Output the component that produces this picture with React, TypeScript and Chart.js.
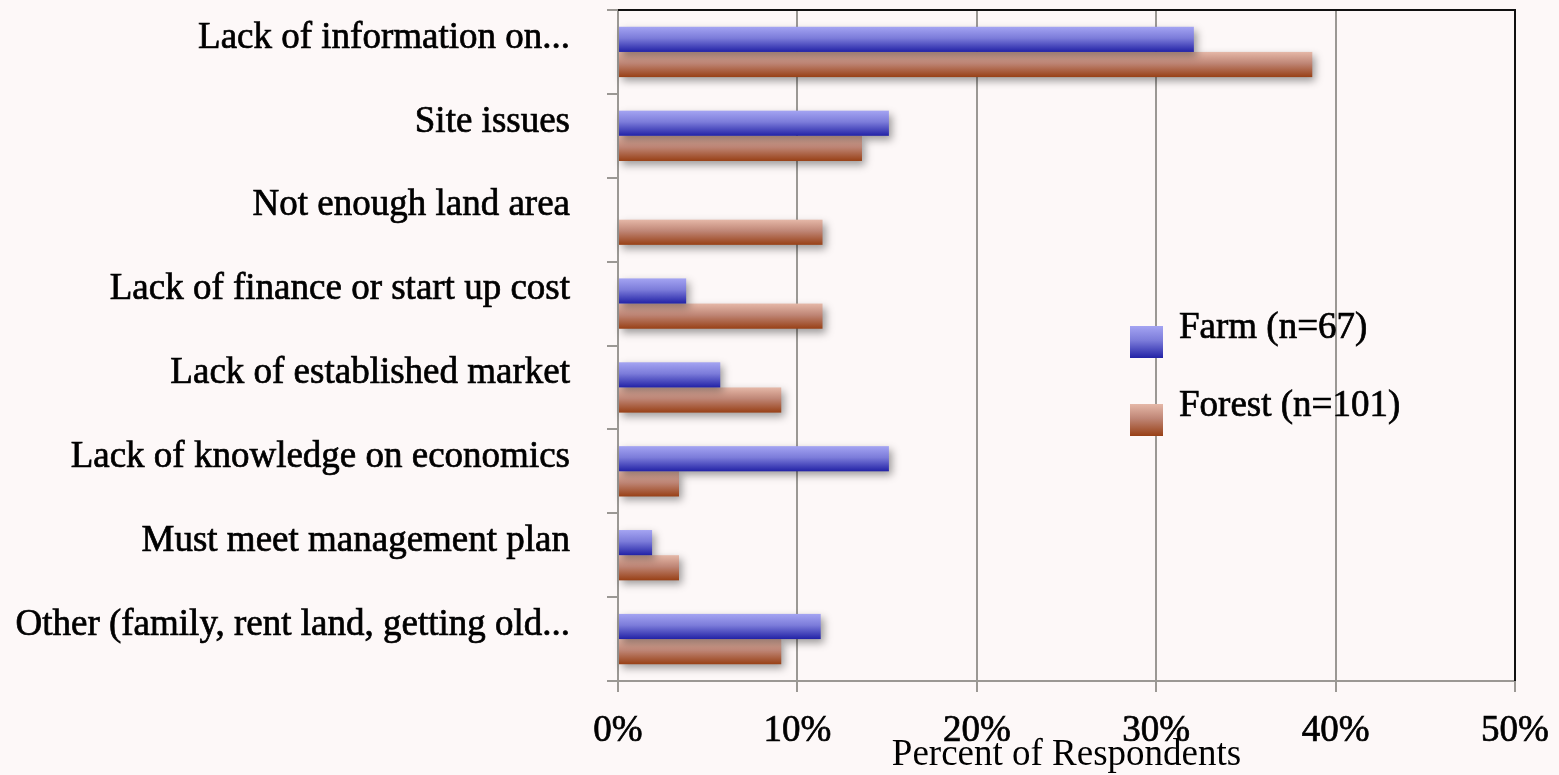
import React, { useEffect, useRef } from "react";
import { Chart, registerables } from "chart.js";

Chart.register(...registerables);

const categories = [
  "Lack of information on...",
  "Site issues",
  "Not enough land area",
  "Lack of finance or start up cost",
  "Lack of established market",
  "Lack of knowledge on economics",
  "Must meet management plan",
  "Other (family, rent land, getting old...",
];
const farmLabel = "Farm (n=67)";
const forestLabel = "Forest (n=101)";
const farmValues = [32.1, 15.1, 0, 3.8, 5.7, 15.1, 1.9, 11.3];
const forestValues = [38.7, 13.6, 11.4, 11.4, 9.1, 3.4, 3.4, 9.1];
const xTickValues = [0, 10, 20, 30, 40, 50];
const axisTitle = "Percent of Respondents";

const FONT = "'Liberation Serif', 'DejaVu Serif', serif";
const BG = "#fdf8f8";
const GRID = "#9b9894";
const GRADS: string[][] = [
  ["#a4a4f2", "#7c7cda", "#2222a6"],
  ["#e5b8a8", "#bf8676", "#984016"],
];

function fillGrad(ctx: CanvasRenderingContext2D, idx: number, top: number, bottom: number) {
  const g = ctx.createLinearGradient(0, top, 0, bottom);
  const s = GRADS[idx];
  g.addColorStop(0, s[0]);
  g.addColorStop(0.45, s[1]);
  g.addColorStop(1, s[2]);
  return g;
}

const gradientBars = {
  id: "gradientBars",
  beforeDatasetDraw(chart: any, args: any) {
    const ctx: CanvasRenderingContext2D = chart.ctx;
    const meta = args.meta;
    ctx.save();
    meta.data.forEach((el: any) => {
      const p = el.getProps(["x", "y", "base", "height"], true);
      const left = Math.min(p.base, p.x);
      const right = Math.max(p.base, p.x);
      if (right - left < 0.5) return;
      const top = p.y - p.height / 2;
      const bottom = p.y + p.height / 2;
      ctx.shadowColor = "rgba(0,0,0,0.38)";
      ctx.shadowBlur = 8;
      ctx.shadowOffsetX = 3;
      ctx.shadowOffsetY = 4;
      ctx.fillStyle = fillGrad(ctx, args.index, top, bottom);
      ctx.fillRect(left, top, right - left, bottom - top);
    });
    ctx.restore();
    return false;
  },
};

const frameAndLegend = {
  id: "frameAndLegend",
  afterDraw(chart: any) {
    const ctx: CanvasRenderingContext2D = chart.ctx;
    const a = chart.chartArea;
    ctx.save();
    ctx.strokeStyle = "#111";
    ctx.lineWidth = 2;
    ctx.beginPath();
    ctx.moveTo(a.left, a.top);
    ctx.lineTo(a.right, a.top);
    ctx.lineTo(a.right, a.bottom);
    ctx.stroke();
    // legend
    const boxX = a.left + 512;
    const tops = [a.top + 316, a.top + 394];
    ctx.font = `37px ${FONT}`;
    ctx.textBaseline = "alphabetic";
    ctx.textAlign = "left";
    ctx.lineWidth = 0.7;
    ctx.strokeStyle = "#000";
    chart.data.datasets.forEach((ds: any, i: number) => {
      const t = tops[i];
      ctx.fillStyle = fillGrad(ctx, i, t, t + 32);
      ctx.fillRect(boxX, t, 33, 32);
      ctx.fillStyle = "#000";
      ctx.fillText(ds.label, boxX + 49, t + 12);
      ctx.strokeText(ds.label, boxX + 49, t + 12);
    });
    ctx.restore();
  },
};

export default function App() {
  const ref = useRef<HTMLCanvasElement>(null);
  useEffect(() => {
    if (!ref.current) return;
    const chart = new Chart(ref.current, {
      type: "bar",
      data: {
        labels: categories,
        datasets: [
          { label: farmLabel, data: farmValues, backgroundColor: "#6a6ad0" },
          { label: forestLabel, data: forestValues, backgroundColor: "#c08878" },
        ],
      },
      options: {
        indexAxis: "y",
        animation: false,
        responsive: true,
        maintainAspectRatio: false,
        categoryPercentage: 0.6,
        barPercentage: 1.0,
        layout: { padding: { top: 10, right: 44, left: 0, bottom: 0 } },
        plugins: { legend: { display: false }, tooltip: { enabled: false } },
        scales: {
          x: {
            min: 0,
            max: 50,
            afterBuildTicks: (s: any) => {
              s.ticks = xTickValues.map((v) => ({ value: v }));
            },
            afterFit: (s: any) => {
              s.height = 94;
              s.paddingLeft = 0;
              s.paddingRight = 0;
            },
            grid: {
              color: (c: any) => (c.tick && c.tick.value === 50 ? "#111" : GRID),
              lineWidth: 2,
              tickColor: GRID,
              tickLength: 11,
            },
            border: { display: true, color: GRID, width: 2 },
            ticks: {
              callback: (v: any) => v + "%",
              color: "#000",
              font: { family: FONT, size: 37 },
              padding: 17,
              maxRotation: 0,
              textStrokeColor: "#000",
              textStrokeWidth: 0.7,
            },
            title: {
              display: true,
              text: axisTitle,
              color: "#000",
              font: { family: FONT, size: 37 },
              padding: { top: 0, bottom: -2 },
            },
          },
          y: {
            afterFit: (s: any) => {
              s.width = 618;
              s.paddingTop = 0;
              s.paddingBottom = 0;
            },
            grid: {
              drawOnChartArea: false,
              offset: true,
              lineWidth: 2,
              color: GRID,
              tickColor: GRID,
              tickLength: 11,
            },
            border: { display: true, color: GRID, width: 2 },
            ticks: {
              color: "#000",
              font: { family: FONT, size: 37 },
              padding: 37,
              labelOffset: -14,
              autoSkip: false,
              textStrokeColor: "#000",
              textStrokeWidth: 0.7,
            },
          },
        },
      },
      plugins: [gradientBars, frameAndLegend],
    } as any);
    return () => chart.destroy();
  }, []);
  return (
    <div
      style={{
        position: "fixed",
        left: 0,
        top: 0,
        width: "1559px",
        height: "775px",
        background: BG,
      }}
    >
      <canvas ref={ref} />
    </div>
  );
}
